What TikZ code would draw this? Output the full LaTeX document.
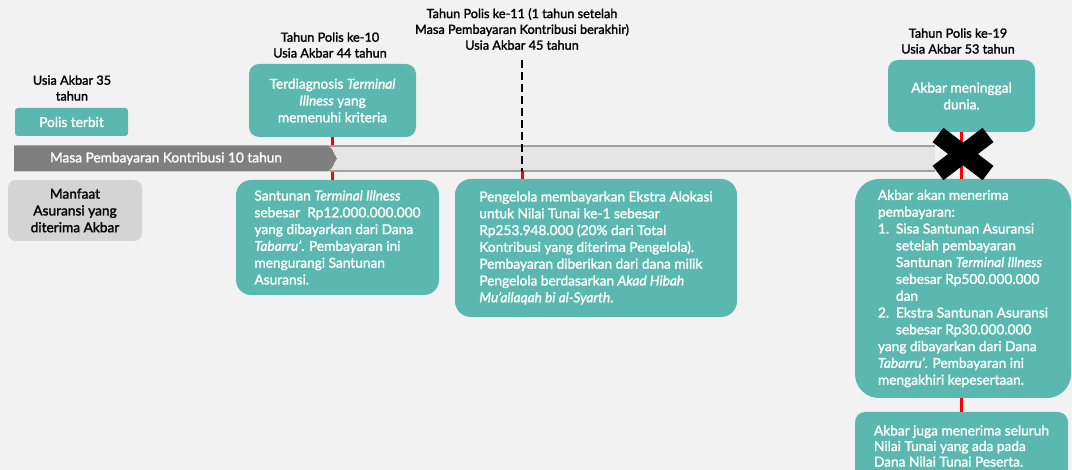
\documentclass[tikz,border=0pt]{standalone}
\usepackage{fontspec}
\setmainfont{Lato}[FakeBold=1.6]
\definecolor{teal1}{HTML}{5BB8B1}
\definecolor{bgc}{HTML}{F2F2F2}
\definecolor{graybox}{HTML}{D4D4D4}
\definecolor{darkbar}{HTML}{7F7F7F}
\definecolor{lightbar}{HTML}{E4E4E4}
\definecolor{barline}{HTML}{A0A0A0}
\begin{document}
\begin{tikzpicture}[x=1pt,y=-1pt,
  tbox/.style={fill=teal1, text=white, inner sep=0pt, font=\fontsize{13.7}{16.8}\selectfont},
  hdr/.style={align=center, inner sep=0pt, text=black, font=\fontsize{12.7}{15.8}\selectfont},
  redline/.style={draw=red, line width=3pt},
  dashline/.style={draw=black, line width=2pt, dash pattern=on 8pt off 4pt},
  xmark/.style={draw=black, line width=18pt},
]
\useasboundingbox (0,0) rectangle (1072,470);
\fill[bgc] (0,0) rectangle (1072,470);
\clip (0,0) rectangle (1072,470);

% headers
\node[hdr] (h0) at (72,88) {Usia Akbar 35\\tahun};
\node[hdr] (h1) at (330,45) {Tahun Polis ke-10\\Usia Akbar 44 tahun};
\node[hdr] (h2) at (522,29) {Tahun Polis ke-11 (1 tahun setelah\\Masa Pembayaran Kontribusi berakhir)\\Usia Akbar 45 tahun};
\node[hdr] (h3) at (958,41) {Tahun Polis ke-19\\Usia Akbar 53 tahun};

% left boxes
\node[tbox, rounded corners=3pt, minimum width=113pt, minimum height=28pt] (polis) at (71.5,122) {Polis terbit};
\node[fill=graybox, rounded corners=8pt, inner sep=0pt, minimum width=134pt, minimum height=61pt, align=center, font=\fontsize{13.7}{16.8}\selectfont] (manfaat) at (75,210.5) {Manfaat\\Asuransi yang\\diterima Akbar};

% event boxes
\node[tbox, rounded corners=10pt, minimum width=167pt, minimum height=73pt, align=center] (t1) at (332.5,100.5) {Terdiagnosis \textit{Terminal}\\\textit{Illness} yang\\memenuhi kriteria};
\node[tbox, rounded corners=15pt, minimum width=203pt, minimum height=115pt, align=left] (b1) at (337.5,237.5) {Santunan \textit{Terminal Illness}\\sebesar\ \ Rp12.000.000.000\\yang dibayarkan dari Dana\\\textit{Tabarru'}. Pembayaran ini\\mengurangi Santunan\\Asuransi.};
\node[tbox, rounded corners=16pt, minimum width=282pt, minimum height=138pt, align=left] (b2) at (596,248) {Pengelola membayarkan Ekstra Alokasi\\untuk Nilai Tunai ke-1 sebesar\\Rp253.948.000 (20\% dari Total\\Kontribusi yang diterima Pengelola).\\Pembayaran diberikan dari dana milik\\Pengelola berdasarkan \textit{Akad Hibah}\\\textit{Mu'allaqah bi al-Syarth}.};
\node[tbox, rounded corners=10pt, minimum width=147pt, minimum height=72pt, align=center] (t3) at (961.5,96) {Akbar meninggal\\dunia.};
\node[tbox, rounded corners=24pt, minimum width=216pt, minimum height=219pt, align=left] (b3) at (963,288.5) {Akbar akan menerima\\pembayaran:\\\makebox[18pt][l]{1.}Sisa Santunan Asuransi\\\hspace*{18pt}setelah pembayaran\\\hspace*{18pt}Santunan \textit{Terminal Illness}\\\hspace*{18pt}sebesar Rp500.000.000\\\hspace*{18pt}dan\\\makebox[18pt][l]{2.}Ekstra Santunan Asuransi\\\hspace*{18pt}sebesar Rp30.000.000\\yang dibayarkan dari Dana\\\textit{Tabarru'}. Pembayaran ini\\mengakhiri kepesertaan.};
\node[tbox, rounded corners=10pt, minimum width=213pt, minimum height=68pt, align=left, font=\fontsize{13.7}{15.6}\selectfont] (b4) at (961.5,446) {Akbar juga menerima seluruh\\Nilai Tunai yang ada pada\\Dana Nilai Tunai Peserta.};

% connectors (under the bar)
\draw[redline] (t1.south) -- (t1.south |- b1.north);
\draw[redline] (t3.south) -- (t3.south |- b3.north);
\draw[redline] (t3.south |- b3.south) -- (t3.south |- b4.north);

% bar
\fill[lightbar] (330,146) -- (935,146) -- (935,171) -- (330,171) -- (337,158.5) -- cycle;
\draw[barline, line width=1.6pt] (330,146) -- (935,146);
\draw[barline, line width=1.6pt] (330,171) -- (935,171);
\fill[darkbar] (14,145.5) -- (329,145.5) -- (337,158.5) -- (329,171.5) -- (14,171.5) -- cycle;
\node[text=white, inner sep=0pt, font=\fontsize{13.7}{16}\selectfont] (barlabel) at (166,158.5) {Masa Pembayaran Kontribusi 10 tahun};

% event 2 marker
\coordinate (e2top) at (522,60);
\coordinate (e2bar) at (522,171);
\draw[dashline] (e2top) -- (e2bar);
\draw[redline] (e2bar) -- (e2bar |- b2.north);

% X mark
\coordinate (xa) at (938,135);
\coordinate (xb) at (988,173);
\coordinate (xc) at (988,135);
\coordinate (xd) at (938,173);
\draw[xmark] (xa) -- (xb);
\draw[xmark] (xc) -- (xd);
\end{tikzpicture}
\end{document}
